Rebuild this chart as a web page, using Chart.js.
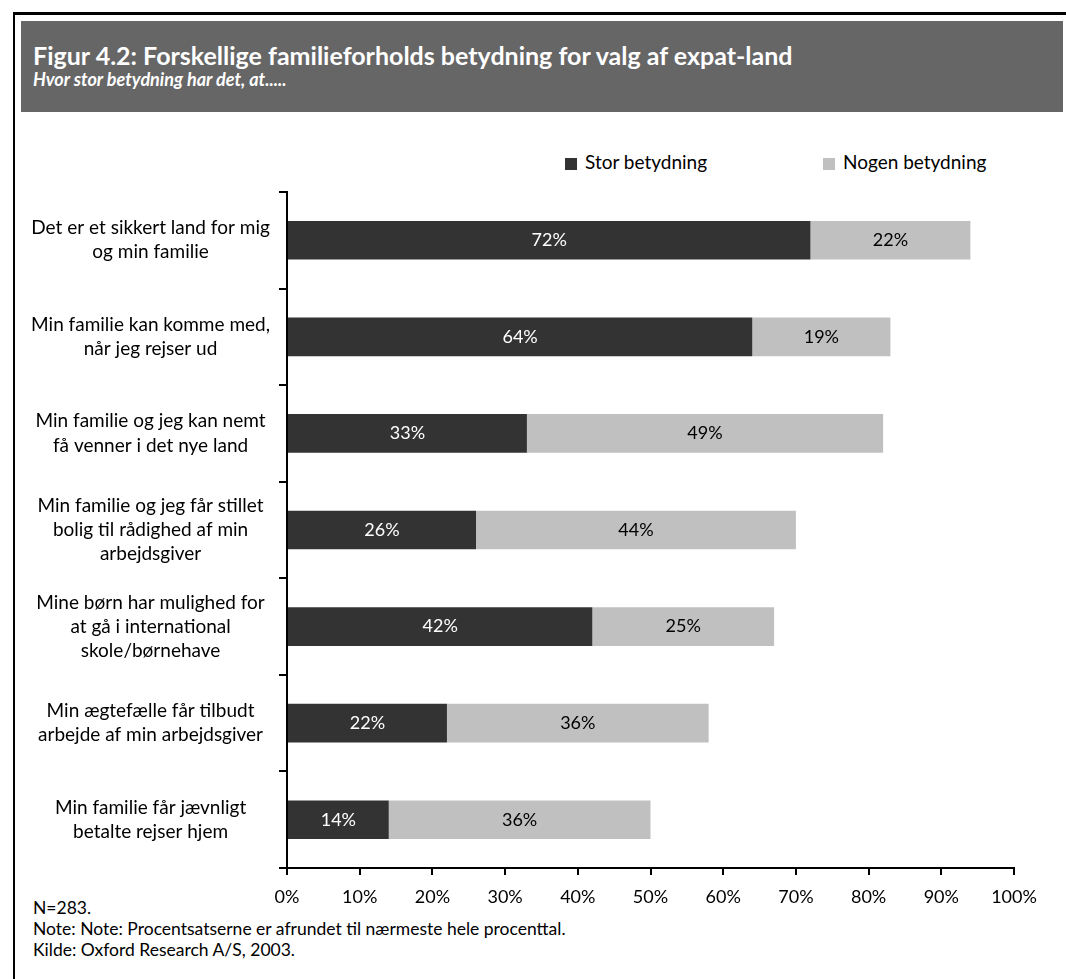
<!DOCTYPE html>
<html>
<head>
<meta charset="utf-8">
<script src="https://cdn.jsdelivr.net/npm/chart.js@4.4.1/dist/chart.umd.min.js"></script>
<style>
  body { margin: 0; background: #fff; font-family: Lato, "Open Sans", sans-serif; }
  #wrap { position: relative; width: 1066px; height: 979px; overflow: hidden; }
  #frame { position: absolute; left: 13px; top: 12px; width: 1100px; height: 1000px;
           border-left: 2px solid #000; border-top: 3px solid #000; }
  #head { position: absolute; left: 21px; top: 21px; width: 1042px; height: 91px; background: #666666; }
  #title { position: absolute; left: 33px; top: 40px; color: #fff; font-weight: bold; font-size: 25px; line-height: 30px; }
  #subtitle { position: absolute; left: 33px; top: 68px; color: #fff; font-weight: bold; font-style: italic; font-size: 18px; line-height: 22px; }
  .leg { position: absolute; top: 150px; font-size: 19px; line-height: 24px; color: #000; }
  .leg span { display: inline-block; width: 12px; height: 12px; margin-right: 8px; vertical-align: -1px; }
  #notes { position: absolute; left: 33px; top: 897px; font-size: 17.5px; line-height: 21px; color: #000; }
  canvas { position: absolute; left: 0; top: 0; }
</style>
</head>
<body>
<div id="wrap">
  <div id="frame"></div>
  <div id="head"></div>
  <div id="title">Figur 4.2: Forskellige familieforholds betydning for valg af expat-land</div>
  <div id="subtitle">Hvor stor betydning har det, at.....</div>
  <div class="leg" style="left:565px"><span style="background:#333333"></span>Stor betydning</div>
  <div class="leg" style="left:823px"><span style="background:#C0C0C0"></span>Nogen betydning</div>
  <div id="notes">N=283.<br>Note: Note: Procentsatserne er afrundet til nærmeste hele procenttal.<br>Kilde: Oxford Research A/S, 2003.</div>
  <canvas id="chart" width="1066" height="979"></canvas>
</div>
<script>
const categories = [
  ['Det er et sikkert land for mig', 'og min familie'],
  ['Min familie kan komme med,', 'når jeg rejser ud'],
  ['Min familie og jeg kan nemt', 'få venner i det nye land'],
  ['Min familie og jeg får stillet', 'bolig til rådighed af min', 'arbejdsgiver'],
  ['Mine børn har mulighed for', 'at gå i international', 'skole/børnehave'],
  ['Min ægtefælle får tilbudt', 'arbejde af min arbejdsgiver'],
  ['Min familie får jævnligt', 'betalte rejser hjem']
];
const storBetydning = [72, 64, 33, 26, 42, 22, 14];
const nogenBetydning = [22, 19, 49, 44, 25, 36, 36];
const xTicks = [0, 10, 20, 30, 40, 50, 60, 70, 80, 90, 100];

const fontFamily = 'Lato, "Open Sans", sans-serif';

// write the percentage inside each bar segment
const barLabels = {
  id: 'barLabels',
  afterDatasetsDraw(chart) {
    const ctx = chart.ctx;
    ctx.save();
    ctx.font = '18px ' + fontFamily;
    ctx.textAlign = 'center';
    ctx.textBaseline = 'middle';
    chart.data.datasets.forEach((ds, di) => {
      chart.getDatasetMeta(di).data.forEach((bar, i) => {
        const p = bar.getProps(['x', 'y', 'base'], true);
        ctx.fillStyle = di == 0 ? '#ffffff' : '#000000';
        ctx.fillText(ds.data[i] + '%', (p.x + p.base) / 2, p.y);
      });
    });
    ctx.restore();
  }
};

new Chart(document.getElementById('chart'), {
  type: 'bar',
  data: {
    labels: categories,
    datasets: [
      { label: 'Stor betydning', data: storBetydning, backgroundColor: '#333333' },
      { label: 'Nogen betydning', data: nogenBetydning, backgroundColor: '#C0C0C0' }
    ]
  },
  options: {
    indexAxis: 'y',
    responsive: false,
    animation: false,
    layout: { padding: { top: 192, right: 52, bottom: 0, left: 0 } },
    datasets: { bar: { barPercentage: 0.4, categoryPercentage: 1.0 } },
    plugins: { legend: { display: false }, tooltip: { enabled: false } },
    scales: {
      x: {
        stacked: true,
        min: 0, max: 100,
        afterBuildTicks: (s) => { s.ticks = xTicks.map(v => ({ value: v })); },
        afterFit: (s) => { s.height = 111; },
        border: { display: true, color: '#000', width: 2 },
        grid: { drawOnChartArea: false, drawTicks: true, tickLength: 7, color: '#000', lineWidth: 2 },
        ticks: { color: '#000', font: { family: fontFamily, size: 18 }, padding: 11,
                 callback: (v) => v + '%' }
      },
      y: {
        stacked: true,
        afterFit: (s) => { s.width = 287; },
        border: { display: true, color: '#000', width: 2 },
        grid: { offset: true, drawOnChartArea: false, tickLength: 8, color: '#000', lineWidth: 2 },
        ticks: { color: '#000', crossAlign: 'center', padding: 9,
                 font: { family: fontFamily, size: 19, lineHeight: 1.27 } }
      }
    }
  },
  plugins: [barLabels]
});
</script>
</body>
</html>
